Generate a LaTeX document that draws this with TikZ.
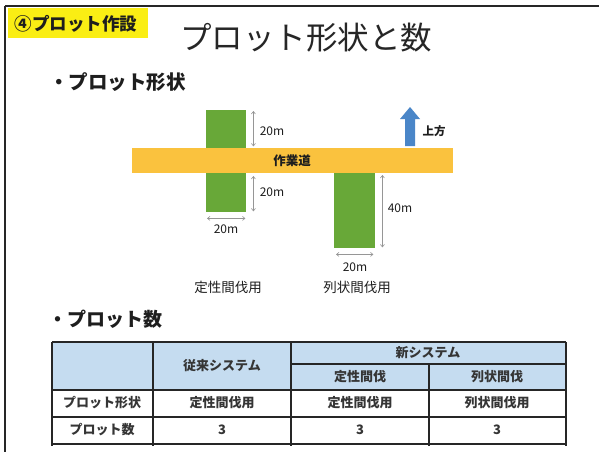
\documentclass[tikz,border=0pt]{standalone}
\usepackage{fontspec}
\setmainfont{Noto Sans CJK JP}
\usetikzlibrary{arrows.meta,calc}
\definecolor{labelyellow}{RGB}{250,238,20}
\definecolor{roadyellow}{RGB}{250,194,62}
\definecolor{plotgreen}{RGB}{104,168,56}
\definecolor{arrowblue}{RGB}{74,134,200}
\definecolor{hdrblue}{RGB}{197,220,240}
\definecolor{dimgray}{RGB}{150,150,150}
\definecolor{txt}{RGB}{30,30,30}
\tikzset{
  plot/.style={fill=plotgreen, draw=none, inner sep=0pt, anchor=north west},
  dimline/.style={draw=dimgray, line width=0.6pt, {Straight Barb[length=2.5pt,width=4pt]}-{Straight Barb[length=2.5pt,width=4pt]}},
  dimlabel/.style={font=\fontsize{12}{14}\selectfont, text=txt, inner sep=1pt},
  cell/.style={font=\bfseries\fontsize{13}{15}\selectfont, text=txt!90, inner sep=1pt},
  tline/.style={draw=black!85, line width=1.3pt},
  caption/.style={font=\fontsize{13.5}{15}\selectfont, text=txt, inner sep=1pt},
}
\begin{document}
\begin{tikzpicture}[x=1pt,y=-1pt]
\useasboundingbox (0,0) rectangle (599,452);
\fill[white] (0,0) rectangle (599,452);
% frame
\draw[black!85, line width=1.8pt] (5,6) -- (599,6);
\draw[black!85, line width=1.8pt] (5,6) -- (5,452);
% label box
\node[fill=labelyellow, minimum width=140pt, minimum height=30pt, anchor=north west, inner sep=0pt] (tag) at (8,8) {};
\node[font=\bfseries\fontsize{17.5}{19}\selectfont, text=txt] (tagtext) at (76,24) {④プロット作設};
% title
\node[font=\fontsize{31.5}{33}\selectfont, text=black!85] (title) at (306,38) {プロット形状と数};
% section headings
\node[font=\bfseries\fontsize{19.5}{21}\selectfont, text=txt, anchor=west, inner sep=0pt] (sec1) at (49,82) {・プロット形状};
\node[font=\bfseries\fontsize{19}{21}\selectfont, text=txt, anchor=west, inner sep=0pt] (sec2) at (48,319) {・プロット数};
% road and plots
\node[fill=roadyellow, minimum width=321pt, minimum height=25pt, inner sep=0pt, anchor=north west] (road) at (132,148) {};
\node[font=\bfseries\fontsize{12.5}{14}\selectfont, text=txt] (roadlabel) at (292,161) {作業道};
\node[plot, minimum width=40pt, minimum height=38pt] (pul) at (206,110) {};
\node[plot, minimum width=40pt, minimum height=39pt] (pll) at (206,173) {};
\node[plot, minimum width=41pt, minimum height=75pt] (pr) at (334,173) {};
% dimensions
\coordinate (d1a) at ($(pul.north east)+(7,1)$);
\coordinate (d1b) at ($(pul.south east)+(7,-2)$);
\draw[dimline] (d1a) -- (d1b);
\node[dimlabel] (l1) at (272,131) {20m};
\coordinate (d2a) at ($(pll.north east)+(7,3)$);
\coordinate (d2b) at ($(pll.south east)+(7,-1)$);
\draw[dimline] (d2a) -- (d2b);
\node[dimlabel] (l2) at (272,192) {20m};
\coordinate (d3a) at ($(pll.south west)+(1,6)$);
\coordinate (d3b) at ($(pll.south east)+(-1,6)$);
\draw[dimline] (d3a) -- (d3b);
\node[dimlabel] (l3) at (226,229) {20m};
\coordinate (d4a) at ($(pr.north east)+(7,2)$);
\coordinate (d4b) at ($(pr.south east)+(7,-1)$);
\draw[dimline] (d4a) -- (d4b);
\node[dimlabel] (l4) at (400,208) {40m};
\coordinate (d5a) at ($(pr.south west)+(2,6)$);
\coordinate (d5b) at ($(pr.south east)+(-2,6)$);
\draw[dimline] (d5a) -- (d5b);
\node[dimlabel] (l5) at (355,267) {20m};
% up arrow
\fill[arrowblue] (405,146) -- (405,119) -- (400,119) -- (410,107) -- (420,119) -- (415,119) -- (415,146) -- cycle;
\node[font=\bfseries\fontsize{11.5}{13}\selectfont, text=txt, inner sep=1pt] (up) at (434,131) {上方};
% plot captions
\node[caption] (c1) at (228,287) {定性間伐用};
\node[caption] (c2) at (357,287) {列状間伐用};
% table
\fill[hdrblue] (52,342) rectangle (566,390);
\draw[tline] (52,342) -- (566,342);
\draw[tline] (291,364) -- (566,364);
\draw[tline] (52,390) -- (566,390);
\draw[tline] (52,417) -- (566,417);
\draw[tline] (52,444) -- (566,444);
\draw[tline] (52,342) -- (52,446);
\draw[tline] (153,342) -- (153,446);
\draw[tline] (291,342) -- (291,446);
\draw[tline] (429,364) -- (429,446);
\draw[tline] (566,342) -- (566,446);
\node[cell] (h1) at (222,366) {従来システム};
\node[cell] (h2) at (428,353) {新システム};
\node[cell] (h3) at (360,377) {定性間伐};
\node[cell] (h4) at (497,377) {列状間伐};
\node[cell] (r1) at (102,403) {プロット形状};
\node[cell] (r1a) at (222,403) {定性間伐用};
\node[cell] (r1b) at (360,403) {定性間伐用};
\node[cell] (r1c) at (497,403) {列状間伐用};
\node[cell] (r2) at (102,430) {プロット数};
\node[cell] (r2a) at (222,430) {3};
\node[cell] (r2b) at (360,430) {3};
\node[cell] (r2c) at (497,430) {3};
\end{tikzpicture}
\end{document}
